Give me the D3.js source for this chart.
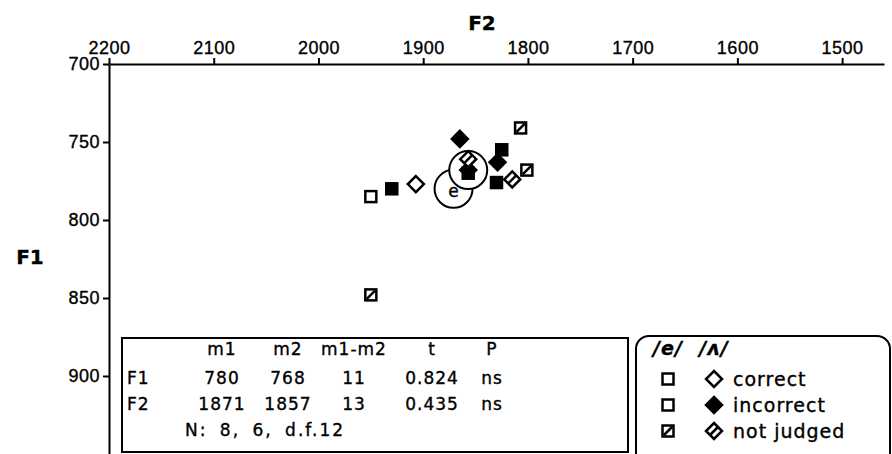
<!DOCTYPE html>
<html>
<head>
<meta charset="utf-8">
<script src="https://cdn.jsdelivr.net/npm/d3@7"></script>
<style>
  body { margin: 0; background: #fff; }
  svg { font-family: "DejaVu Sans", sans-serif; }
  svg text { stroke: #000; stroke-width: 0.35px; }
</style>
</head>
<body>
<div id="graph"></div>
<script>
// [F2, F1] pairs
const eCorrect = [[1950, 785]];
const eIncorrect = [[1930, 780], [1825, 755], [1830, 776], [1857, 770]];
const eNotJudged = [[1807, 741], [1801, 768], [1950, 848]];
const uCorrect = [[1907, 777]];
const uIncorrect = [[1865, 748], [1857, 768], [1829, 763]];
const uNotJudged = [[1857, 761], [1815, 774]];
const means = [["e", 1871, 780], ["ʌ", 1857, 768]];

const xTicks = [2200, 2100, 2000, 1900, 1800, 1700, 1600, 1500];
const yTicks = [700, 750, 800, 850, 900];

const tableHead = ["m1", "m2", "m1-m2", "t", "P"];
const tableRows = [
  ["F1", "780", "768", "11", "0.824", "ns"],
  ["F2", "1871", "1857", "13", "0.435", "ns"]
];
const tableNote = "N: 8, 6, d.f.12";
const legendHead = ["/e/", "/ʌ/"];
const legendRows = ["correct", "incorrect", "not judged"];

const width = 892;
const height = 454;

const svg = d3.select("#graph")
              .append("svg")
              .attr("width", width)
              .attr("height", height);

const xScale = d3.scaleLinear()
                 .domain([2200, 1460])
                 .range([109, 884]);

const yScale = d3.scaleLinear()
                 .domain([700, 950])
                 .range([64, 454]);

const xAxis = d3.axisTop(xScale)
                .tickValues(xTicks)
                .tickSizeInner(6)
                .tickSizeOuter(0)
                .tickPadding(4)
                .tickFormat(d3.format("d"));

const yAxis = d3.axisLeft(yScale)
                .tickValues(yTicks)
                .tickSizeInner(6)
                .tickSizeOuter(0)
                .tickPadding(3)
                .tickFormat(d3.format("d"));

const gx = svg.append("g")
   .attr("transform", `translate(0, ${yScale(700)})`)
   .call(xAxis);

const gy = svg.append("g")
   .attr("transform", `translate(${xScale(2200)}, 0)`)
   .call(yAxis);

[gx, gy].forEach(g => {
  g.selectAll("path, line").attr("stroke", "#000").attr("stroke-width", 2);
  g.selectAll("text")
   .style("font-size", "18px")
   .style("letter-spacing", "0.5px")
   .attr("fill", "#000");
});

svg.append("text")
   .attr("x", 482)
   .attr("y", 30)
   .style("text-anchor", "middle")
   .style("font-weight", "bold")
   .style("font-size", "20px")
   .text("F2");

svg.append("text")
   .attr("x", 30)
   .attr("y", 264)
   .style("text-anchor", "middle")
   .style("font-weight", "bold")
   .style("font-size", "20px")
   .text("F1");

// mean circles
const meanG = svg.append("g");
meanG.selectAll("circle")
     .data(means)
     .enter()
     .append("circle")
     .attr("cx", d => xScale(d[1]))
     .attr("cy", d => yScale(d[2]))
     .attr("r", 19)
     .attr("fill", "#fff")
     .attr("stroke", "#000")
     .attr("stroke-width", 2);

meanG.append("text")
     .attr("x", xScale(means[0][1]))
     .attr("y", yScale(means[0][2]) + 8)
     .style("text-anchor", "middle")
     .style("font-size", "17px")
     .text("e");

// marker drawers
function square(g, kind) {
  g.append("rect")
   .attr("x", -5.5).attr("y", -5.5)
   .attr("width", 11).attr("height", 11)
   .attr("fill", kind === "incorrect" ? "#000" : "#fff")
   .attr("stroke", "#000")
   .attr("stroke-width", 2.5);
  if (kind === "nj") {
    g.append("line")
     .attr("x1", -4).attr("y1", 4).attr("x2", 4).attr("y2", -4)
     .attr("stroke", "#000").attr("stroke-width", 2.5);
  }
}

function diamond(g, kind) {
  g.append("path")
   .attr("d", "M0,-8L8,0L0,8L-8,0Z")
   .attr("fill", kind === "incorrect" ? "#000" : "#fff")
   .attr("stroke", "#000")
   .attr("stroke-width", 2.5)
   .attr("stroke-linejoin", "miter");
  if (kind === "nj") {
    g.append("line")
     .attr("x1", -4).attr("y1", 4).attr("x2", 4).attr("y2", -4)
     .attr("stroke", "#000").attr("stroke-width", 2.5);
  }
}

const groups = [
  [eCorrect, square, "correct"],
  [eIncorrect, square, "incorrect"],
  [eNotJudged, square, "nj"],
  [uCorrect, diamond, "correct"],
  [uIncorrect, diamond, "incorrect"],
  [uNotJudged, diamond, "nj"]
];

groups.forEach(([data, draw, kind]) => {
  svg.append("g")
     .selectAll("g")
     .data(data)
     .enter()
     .append("g")
     .attr("transform", d => `translate(${xScale(d[0])}, ${yScale(d[1])})`)
     .each(function() { draw(d3.select(this), kind); });
});

// stats table
const table = svg.append("g").style("font-size", "17px");
table.append("rect")
     .attr("x", 122).attr("y", 338)
     .attr("width", 506).attr("height", 114)
     .attr("fill", "#fff")
     .attr("stroke", "#000")
     .attr("stroke-width", 2);

const colX = [127, 222, 288, 354, 432, 492];
table.selectAll(".head")
     .data(tableHead)
     .enter()
     .append("text")
     .attr("x", (d, i) => colX[i + 1])
     .attr("y", 355)
     .style("text-anchor", "middle")
     .style("letter-spacing", "1px")
     .text(d => d);

tableRows.forEach((row, r) => {
  table.selectAll(".row" + r)
       .data(row)
       .enter()
       .append("text")
       .attr("x", (d, i) => colX[i])
       .attr("y", 384 + r * 26)
       .style("text-anchor", (d, i) => i === 0 ? "start" : "middle")
       .style("letter-spacing", "1px")
       .text(d => d);
});

table.append("text")
     .attr("x", 185)
     .attr("y", 436)
     .style("letter-spacing", "2px")
     .style("word-spacing", "5px")
     .text(tableNote);

// legend
const legend = svg.append("g").style("font-size", "19px");
legend.append("rect")
      .attr("x", 636).attr("y", 336)
      .attr("width", 254).attr("height", 130)
      .attr("rx", 13)
      .attr("fill", "#fff")
      .attr("stroke", "#000")
      .attr("stroke-width", 2);

const markX = [668, 714];
legend.selectAll(".lhead")
      .data(legendHead)
      .enter()
      .append("text")
      .attr("x", (d, i) => markX[i])
      .attr("y", 355)
      .style("text-anchor", "middle")
      .style("font-weight", "bold")
      .style("font-style", "italic")
      .style("letter-spacing", "1px")
      .text(d => d);

const kinds = ["correct", "incorrect", "nj"];
legendRows.forEach((label, i) => {
  const y = 379 + i * 26;
  const s = legend.append("g").attr("transform", `translate(${markX[0]}, ${y})`);
  square(s, kinds[i] === "nj" ? "nj" : "correct");
  const dm = legend.append("g").attr("transform", `translate(${markX[1]}, ${y})`);
  diamond(dm, kinds[i]);
  legend.append("text")
        .attr("x", 733)
        .attr("y", y + 7)
        .style("letter-spacing", "1px")
        .text(label);
});
</script>
</body>
</html>
